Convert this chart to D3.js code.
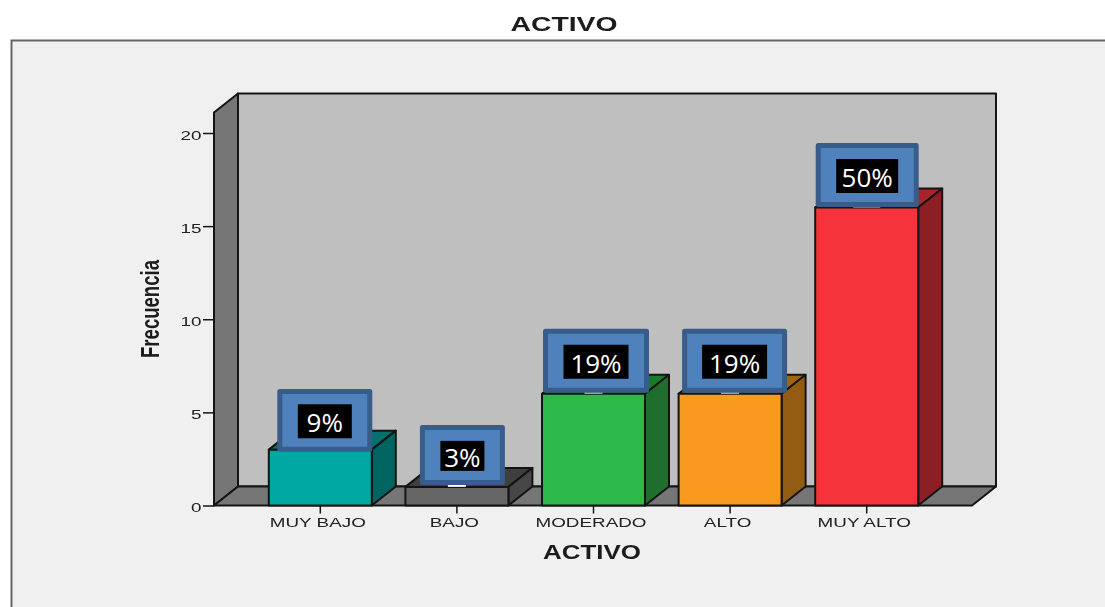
<!DOCTYPE html>
<html><head><meta charset="utf-8">
<script src="https://cdn.jsdelivr.net/npm/d3@7"></script>
<style>html,body{margin:0;padding:0;background:#fff}svg{display:block}text{font-family:"Liberation Sans",Arial,sans-serif}.soft{filter:blur(.45px)}</style>
</head><body><div id="chart"></div>
<script>
const categories=["MUY BAJO","BAJO","MODERADO","ALTO","MUY ALTO"];
const frequencies=[3,1,6,6,16];
const percentLabels=["9%","3%","19%","19%","50%"];
const yTicks=[0,5,10,15,20];
const frontColors=["#00a8a3","#666666","#2db84a","#f99a1f","#f4333a"];
const topColors=["#00716d","#3f3f3f","#1c7a30","#a3640f","#a8232a"];
const sideColors=["#006460","#474747","#1f6e2e","#945c12","#8c1f23"];

const W=1105,H=607,depthX=24,depthY=19;
const svg=d3.select("#chart").append("svg").attr("width",W).attr("height",H);
const ink="#141414";
const x=d3.scaleBand().domain(categories).range([252,935]).paddingInner(.246).paddingOuter(.123);
const y=d3.scaleLinear().domain([0,20]).range([505.5,133]);
const wallTop=y(21.1),wallL=214,floorR=972;
const poly=(pts,fill,sw=2)=>svg.append("polygon").attr("points",pts.map(p=>p.join(",")).join(" ")).attr("fill",fill).attr("stroke",ink).attr("stroke-width",sw).attr("stroke-linejoin","round");

svg.append("rect").attr("x",11.5).attr("y",40.5).attr("width",W).attr("height",H).attr("fill","#f0f0f0").attr("stroke","#666").attr("stroke-width",2);

// walls and floor
poly([[wallL+depthX,wallTop-depthY],[floorR+depthX,wallTop-depthY],[floorR+depthX,y(0)-depthY],[wallL+depthX,y(0)-depthY]],"#bfbfbf");
poly([[wallL,wallTop],[wallL+depthX,wallTop-depthY],[wallL+depthX,y(0)-depthY],[wallL,y(0)]],"#767676");
poly([[wallL,y(0)],[wallL+depthX,y(0)-depthY],[floorR+depthX,y(0)-depthY],[floorR,y(0)]],"#767676");

// y axis
const yAxis=svg.append("g").attr("transform",`translate(${wallL},0)`).call(d3.axisLeft(y).tickValues(yTicks).tickSize(11));
yAxis.select(".domain").remove();
yAxis.selectAll("line").attr("stroke",ink).attr("stroke-width",1.5);
yAxis.selectAll("text").attr("class","soft").attr("fill","#222").style("font-size","13px").attr("x",0).attr("transform","translate(-12.5,2) scale(1.45,1)");

// x axis
const xAxis=svg.append("g").attr("transform",`translate(0,${y(0)})`).call(d3.axisBottom(x).tickSize(8).tickPadding(4));
xAxis.select(".domain").remove();
xAxis.selectAll("line").attr("stroke",ink).attr("stroke-width",1.5);
xAxis.selectAll("text").attr("class","soft").attr("fill","#222").style("font-size","13px").attr("transform","translate(-2.5,0) scale(1.45,1)");

// bars
categories.forEach((c,i)=>{
  const l=x(c),r=l+x.bandwidth(),t=y(frequencies[i]),b=y(0);
  poly([[l,t],[l+depthX,t-depthY],[r+depthX,t-depthY],[r,t]],topColors[i]);
  poly([[r,t],[r+depthX,t-depthY],[r+depthX,b-depthY],[r,b]],sideColors[i]);
  poly([[l,t],[r,t],[r,b],[l,b]],frontColors[i]);
});

// percent callouts
const boxW=[95,85,106,105,103],boxDX=[4.5,5.5,2.5,4.5,0.5],boxH=[62.7,60,64,64,64],boxGap=[-2,2,1,1,0.5];
const inkW=[54,44,65,65,62],inkH=[34,30,34,34,34];
const sliverW=[18,18,18,18,27];
categories.forEach((c,i)=>{
  const mid=x(c)+x.bandwidth()/2,cx=mid+boxDX[i],top=y(frequencies[i]);
  svg.append("rect").attr("x",mid-sliverW[i]/2).attr("y",top-3).attr("width",sliverW[i]).attr("height",3).attr("fill",i===1?"#fff":"#c3ccd6");
  const bot=top-boxGap[i],h=boxH[i],w=boxW[i],cy=bot-h/2;
  svg.append("rect").attr("x",cx-w/2+2.5).attr("y",bot-h+2.5).attr("width",w-5).attr("height",h-5).attr("fill","#4f81bd").attr("stroke","#385d8a").attr("stroke-width",5).attr("stroke-linejoin","round");
  svg.append("rect").attr("x",cx-inkW[i]/2).attr("y",cy-inkH[i]/2+1).attr("width",inkW[i]).attr("height",inkH[i]).attr("fill","#000");
  svg.append("text").attr("x",cx).attr("y",cy+12).attr("text-anchor","middle").attr("fill","#fff").style("font-family","'Open Sans',sans-serif").style("font-size","26px").text(percentLabels[i]);
});

// titles
const wide=(txt,cx,yy,fs,len)=>svg.append("text").attr("class","soft").attr("x",cx).attr("y",yy).attr("text-anchor","middle").attr("font-weight","bold").attr("fill","#1c1c1c").style("font-size",fs+"px").attr("textLength",len).attr("lengthAdjust","spacingAndGlyphs").text(txt);
wide("ACTIVO",564,31,20,107);
wide("ACTIVO",592,558.5,20,98);
svg.append("text").attr("class","soft").attr("transform","translate(159,309) rotate(-90)").attr("text-anchor","middle").attr("font-weight","bold").attr("fill","#1c1c1c").style("font-size","26px").attr("textLength",98).attr("lengthAdjust","spacingAndGlyphs").text("Frecuencia");
</script></body></html>
